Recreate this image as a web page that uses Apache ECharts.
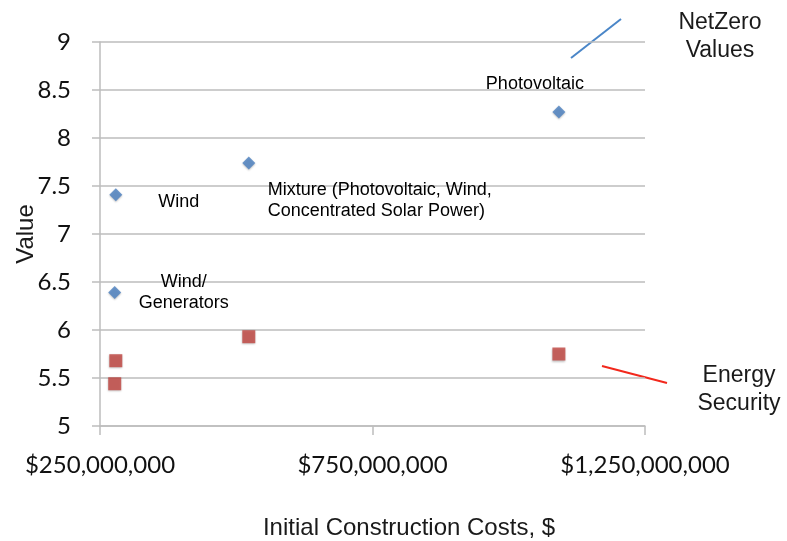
<!DOCTYPE html>
<html>
<head>
<meta charset="utf-8">
<script src="https://cdn.jsdelivr.net/npm/echarts@6/dist/echarts.min.js"></script>
<style>
  html, body { margin: 0; padding: 0; background: #fff; }
  #chart { width: 787px; height: 541px; }
</style>
</head>
<body>
<div id="chart"></div>
<script>
// NetZero values (blue diamonds)
var netZeroCost  = [279e6, 277e6, 523e6, 1092e6];
var netZeroValue = [7.41, 6.39, 7.74, 8.27];
var netZeroNames = ['Wind', 'Wind/\nGenerators', 'Mixture (Photovoltaic, Wind,\nConcentrated Solar Power)', 'Photovoltaic'];

// Energy security (red squares)
var energyCost  = [279e6, 277e6, 523e6, 1092e6];
var energyValue = [5.68, 5.44, 5.93, 5.75];

var xTicks = [250e6, 750e6, 1250e6];
var yMin = 5, yMax = 9, yStep = 0.5;

// where each point label sits, relative to its marker
var labelLayout = [
    { offset: [63, 7], align: 'center' },
    { offset: [69, 0], align: 'center' },
    { offset: [19, 38], align: 'left' },
    { offset: [-24, -28], align: 'center' }
];

var tickFont = 'Lato';
var textFont = '"Liberation Sans", Arial, sans-serif';
var gridColor = '#bdbdbd';

function money(v) {
    return '$' + Math.round(v).toLocaleString('en-US');
}

var chart = echarts.init(document.getElementById('chart'));

var blueData = netZeroCost.map(function (c, i) {
    var l = labelLayout[i];
    return {
        value: [c, netZeroValue[i]],
        label: {
            show: true,
            formatter: netZeroNames[i],
            position: 'inside',
            offset: l.offset,
            align: l.align,
            verticalAlign: 'middle',
            fontFamily: textFont,
            fontSize: 18,
            lineHeight: 21,
            color: '#000',
            opacity: 1,
            textBorderWidth: 0
        }
    };
});

var redData = energyCost.map(function (c, i) {
    return [c, energyValue[i]];
});

var option = {
    backgroundColor: '#fff',
    animation: false,
    grid: { left: 100, right: 142, top: 42, bottom: 115, outerBoundsMode: 'none', containLabel: false },
    xAxis: {
        type: 'value',
        min: xTicks[0],
        max: xTicks[xTicks.length - 1],
        interval: 500e6,
        name: 'Initial Construction Costs, $',
        nameLocation: 'middle',
        nameGap: 90,
        nameMoveOverlap: false,
        nameTextStyle: {
            fontFamily: textFont, fontSize: 24, color: '#1a1a1a',
            padding: [0, 0, 0, 73]
        },
        axisLine: { show: true, lineStyle: { color: gridColor, width: 1.5 } },
        axisTick: { show: true, length: 9, inside: false, lineStyle: { color: gridColor, width: 1.5 } },
        splitLine: { show: false },
        axisLabel: {
            margin: 27,
            fontFamily: tickFont, fontSize: 24, color: '#111',
            formatter: money
        }
    },
    yAxis: {
        type: 'value',
        min: yMin,
        max: yMax,
        interval: yStep,
        name: 'Value',
        nameLocation: 'middle',
        nameRotate: 90,
        nameGap: 62,
        nameMoveOverlap: false,
        nameTextStyle: { fontFamily: textFont, fontSize: 24, color: '#1a1a1a' },
        axisLine: { show: true, lineStyle: { color: gridColor, width: 1.5 } },
        axisTick: { show: true, length: 8, lineStyle: { color: gridColor, width: 1.5 } },
        splitLine: { show: true, lineStyle: { color: gridColor, width: 1.5 } },
        axisLabel: {
            margin: 29,
            padding: [8, 0, 0, 0],
            fontFamily: tickFont, fontSize: 24, color: '#111'
        }
    },
    series: [
        {
            name: 'NetZero Values',
            type: 'scatter',
            symbol: 'diamond',
            symbolSize: [13, 13],
            itemStyle: {
                color: '#4a7fc0',
                shadowColor: 'rgba(0,0,0,0.3)',
                shadowBlur: 2,
                shadowOffsetY: 1
            },
            data: blueData,
            z: 3
        },
        {
            name: 'Energy Security',
            type: 'scatter',
            symbol: 'rect',
            symbolSize: 13,
            itemStyle: {
                color: '#c0433f',
                shadowColor: 'rgba(0,0,0,0.3)',
                shadowBlur: 2,
                shadowOffsetY: 1
            },
            data: redData,
            z: 3
        }
    ],
    graphic: [
        {
            type: 'line',
            shape: { x1: 571, y1: 58, x2: 621, y2: 19 },
            style: { stroke: '#4a86c8', lineWidth: 2 }
        },
        {
            type: 'text',
            x: 720, y: 37,
            style: {
                text: 'NetZero\nValues',
                align: 'center', verticalAlign: 'middle',
                font: '23px ' + textFont, lineHeight: 28, fill: '#1a1a1a'
            }
        },
        {
            type: 'line',
            shape: { x1: 602, y1: 366, x2: 667, y2: 383 },
            style: { stroke: '#f2281c', lineWidth: 2 }
        },
        {
            type: 'text',
            x: 739, y: 390,
            style: {
                text: 'Energy\nSecurity',
                align: 'center', verticalAlign: 'middle',
                font: '23px ' + textFont, lineHeight: 28, fill: '#1a1a1a'
            }
        }
    ]
};

chart.setOption(option);
window.addEventListener('resize', function () {
    chart.resize();
});
</script>
</body>
</html>
